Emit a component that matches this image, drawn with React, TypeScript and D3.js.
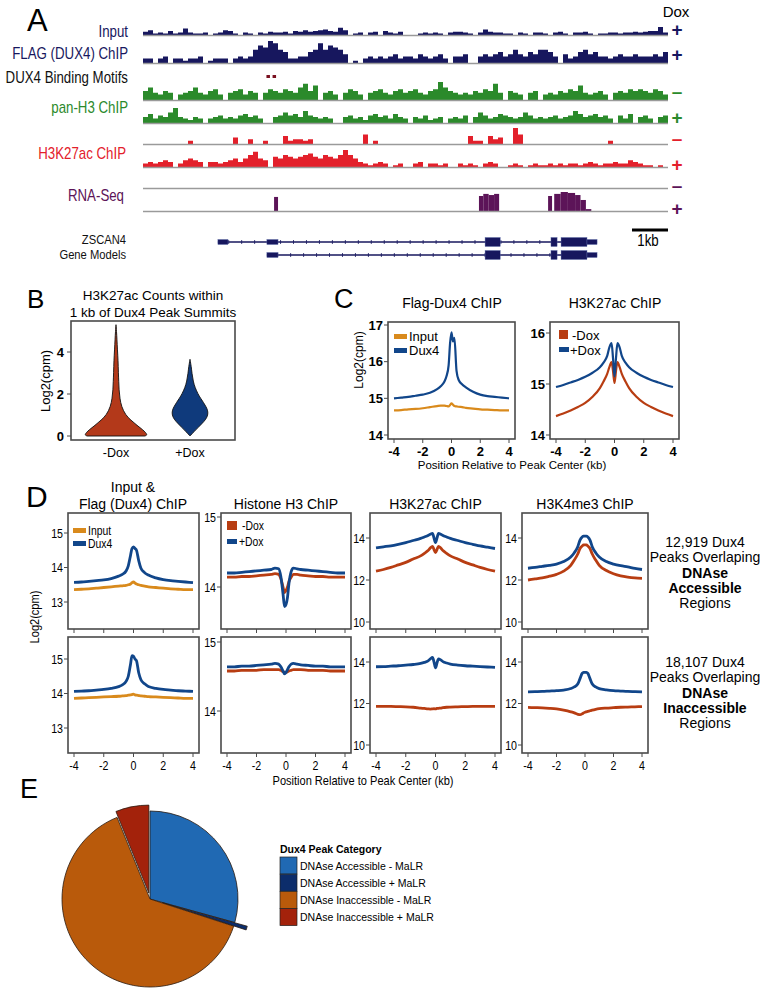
import React from 'react';
import * as d3 from 'd3';

// ---------------- DATA ----------------
// Panel A: genome browser coverage (binned, 0-10 relative units)
const inputTrack = [4,6,2,3,2,5,2,3,8,3, 2,2,3,0,2,3,6,5,2,0, 3,2,0,3,2,4,3,3,4,2, 5,4,6,4,5,6,7,5,4,9, 6,0,2,3,0,3,4,0,5,3, 2,4,0,0,0,2,3,2,3,2, 0,3,4,4,3,2,0,3,7,4, 3,3,2,2,0,3,2,0,3,3, 2,0,3,4,2,0,3,3,4,2, 0,2,2,3,3,2,3,3,4,3, 4,5,5,10,3];
const flagTrack = [2,2,0,2,3,0,2,2,1,2, 2,3,0,1,2,2,2,0,2,3, 2,3,6,8,7,10,9,6,5,2, 2,3,3,5,6,9,6,8,7,6, 4,0,1,0,2,3,2,3,2,3, 4,2,3,3,2,4,3,2,3,4, 2,0,3,3,4,0,0,3,4,3, 4,5,3,4,6,4,3,5,4,6, 6,5,3,0,4,2,3,5,6,4, 5,3,3,2,3,4,3,3,4,3, 3,3,4,3,5];
const h3MinusTrack = [5,7,4,3,5,4,0,3,4,5, 7,4,3,5,6,3,0,4,5,6, 3,5,4,0,4,6,5,4,6,5, 4,7,9,5,8,0,4,5,3,0, 4,6,5,3,0,4,5,6,4,3, 5,6,4,5,6,4,3,5,6,10, 7,5,4,3,4,3,5,4,6,5, 9,4,0,5,4,3,0,4,5,0, 3,4,3,5,4,6,5,8,4,3, 4,5,3,0,4,5,4,6,5,6, 5,4,6,5,3];
const h3PlusTrack = [4,6,3,5,4,7,10,4,3,2, 4,3,0,3,4,5,3,4,3,5, 6,4,5,3,0,0,4,5,7,5, 6,4,8,5,4,3,4,3,0,0, 4,5,3,4,2,5,6,4,5,3, 6,4,3,0,4,3,5,2,3,4, 0,3,4,3,5,0,4,7,5,3, 4,6,5,4,3,4,7,5,3,4, 3,4,5,3,4,5,8,6,4,5, 6,4,5,3,0,5,3,6,0,4, 5,3,0,4,5];
const acMinusTrack = [0,0,0,0,0,0,0,0,0,2, 0,0,0,0,0,0,0,0,4,0, 0,3,0,0,2,0,0,0,5,2, 3,3,2,3,0,0,0,0,0,0, 0,0,0,0,6,0,2,0,0,0, 0,0,0,0,0,0,0,0,0,0, 0,0,0,0,0,5,2,2,0,5, 3,4,0,0,10,6,0,0,0,0, 0,0,0,0,0,0,0,0,0,0, 0,0,0,2,0,0,0,0,0,0, 0,0,0,0,0];
const acPlusTrack = [2,3,2,3,4,3,0,2,4,5, 4,3,0,3,3,2,3,4,5,3, 5,7,9,5,4,0,6,5,7,6, 5,6,7,8,6,5,7,6,5,7, 10,7,5,3,2,1,2,3,2,0, 1,2,0,0,2,3,0,2,2,1, 2,0,0,2,1,2,1,0,2,3, 2,0,0,1,2,1,0,1,2,1, 1,2,1,2,1,2,2,1,2,3, 2,1,2,2,3,2,2,4,3,2, 1,1,0,1,0];
// RNA-seq (+Dox) coverage blocks: [start kb, end kb, value 0-10]
const rnaBlocks = [[3.64,3.75,7.4],[9.33,9.45,7.9],[9.45,9.6,9],[9.6,9.75,8.4],[9.75,9.89,9],[11.25,11.36,7.9],[11.42,11.6,9],[11.6,11.8,10],[11.8,12.0,9.5],[12.0,12.15,8.4],[12.15,12.3,5.8],[12.3,12.45,1]];
const motifPositions = [3.47, 3.64];
const regionKb = 14.58;
// gene models: [start kb, end kb, kind] where kind 'c' = coding, 'u' = UTR
const gene1Span = [2.08, 12.61];
const gene1Exons = [[2.08,2.36,'u'],[3.44,3.75,'u'],[9.5,9.92,'c'],[11.33,11.5,'c'],[11.61,12.33,'c'],[12.33,12.61,'u']];
const gene2Span = [3.44, 12.61];
const gene2Exons = [[3.44,3.75,'u'],[9.5,9.92,'c'],[11.33,11.5,'c'],[11.61,12.33,'c'],[12.33,12.61,'u']];

// Panel B: violins — levels (log2 cpm) and relative widths
const violinMinusLevels = [0,0.05,0.3,0.5,0.76,1.0,1.4,1.8,2.2,2.6,3.0,3.6,4.1,4.6,5.0,5.3];
const violinMinusWidths = [0.9,1.0,0.84,0.66,0.46,0.3,0.17,0.12,0.095,0.085,0.075,0.065,0.045,0.03,0.015,0];
const violinPlusLevels = [0,0.2,0.4,0.6,0.8,1.0,1.2,1.4,1.6,1.8,2.0,2.3,2.6,3.0,3.3,3.65];
const violinPlusWidths = [0,0.12,0.25,0.38,0.5,0.56,0.56,0.5,0.42,0.33,0.25,0.16,0.1,0.06,0.04,0];
const violinCats = ['-Dox', '+Dox'];
const bTicks = [0, 2, 4];

// Profiles (position kb)
const PX = [-4,-3.5,-3,-2.5,-2,-1.5,-1,-0.75,-0.5,-0.35,-0.2,-0.1,0,0.1,0.2,0.35,0.5,0.75,1,1.5,2,2.5,3,3.5,4];
// Panel C
const cFlagInput = [14.67,14.68,14.7,14.71,14.73,14.76,14.79,14.8,14.8,14.79,14.78,14.82,14.86,14.83,14.79,14.78,14.77,14.76,14.74,14.72,14.7,14.69,14.68,14.67,14.67];
const cFlagDux4 = [15.0,15.02,15.04,15.07,15.1,15.15,15.25,15.33,15.45,15.6,15.9,16.5,16.8,16.55,16.65,15.75,15.5,15.38,15.3,15.18,15.1,15.06,15.04,15.02,15.0];
const cAcPlus = [14.94,14.98,15.03,15.08,15.14,15.22,15.33,15.42,15.55,15.72,15.8,15.5,15.15,15.5,15.8,15.72,15.55,15.42,15.33,15.22,15.14,15.08,15.03,14.98,14.94];
const cAcMinus = [14.37,14.42,14.48,14.55,14.63,14.75,14.92,15.05,15.2,15.33,15.43,15.25,15.02,15.25,15.43,15.33,15.2,15.05,14.92,14.75,14.63,14.55,14.48,14.42,14.37];
const cLeftTicks = [14, 15, 16, 17];
const cRightTicks = [14, 15, 16];
const xTicks = [-4, -2, 0, 2, 4];

// Panel D — row 1 (accessible), row 2 (inaccessible)
const d1Input = [13.36,13.37,13.38,13.4,13.42,13.44,13.46,13.47,13.48,13.5,13.52,13.56,13.58,13.55,13.52,13.5,13.48,13.46,13.44,13.42,13.4,13.38,13.37,13.36,13.36];
const d1Dux4 = [13.57,13.58,13.6,13.62,13.64,13.68,13.75,13.8,13.9,14.05,14.35,14.55,14.6,14.55,14.5,14.2,13.98,13.85,13.78,13.7,13.65,13.62,13.6,13.58,13.56];
const d2Input = [13.86,13.87,13.88,13.89,13.9,13.91,13.92,13.93,13.94,13.95,13.96,13.97,13.98,13.96,13.95,13.94,13.93,13.92,13.91,13.9,13.89,13.88,13.87,13.86,13.86];
const d2Dux4 = [14.06,14.07,14.08,14.1,14.12,14.15,14.2,14.25,14.35,14.5,14.85,15.1,15.08,15.0,14.95,14.6,14.4,14.28,14.2,14.15,14.12,14.1,14.08,14.07,14.06];
const d1H3Plus = [14.2,14.2,14.21,14.22,14.23,14.24,14.25,14.27,14.26,14.15,13.9,13.72,13.75,13.85,14.05,14.22,14.27,14.26,14.25,14.24,14.23,14.22,14.21,14.2,14.2];
const d1H3Minus = [14.14,14.14,14.15,14.15,14.16,14.17,14.18,14.19,14.18,14.12,14.0,13.92,13.95,14.0,14.08,14.14,14.18,14.18,14.17,14.16,14.15,14.15,14.14,14.14,14.14];
const d2H3Plus = [14.64,14.64,14.65,14.65,14.66,14.67,14.68,14.69,14.68,14.64,14.58,14.54,14.56,14.6,14.64,14.68,14.69,14.68,14.67,14.66,14.65,14.65,14.64,14.64,14.64];
const d2H3Minus = [14.58,14.58,14.59,14.59,14.59,14.6,14.6,14.6,14.6,14.59,14.57,14.56,14.56,14.57,14.58,14.59,14.6,14.6,14.6,14.59,14.59,14.59,14.58,14.58,14.58];
const d1AcPlus = [13.53,13.58,13.63,13.7,13.78,13.88,13.98,14.05,14.12,14.18,14.22,14.0,13.78,14.0,14.22,14.18,14.12,14.05,13.98,13.88,13.78,13.7,13.62,13.56,13.5];
const d1AcMinus = [12.42,12.5,12.6,12.72,12.84,13.0,13.15,13.27,13.4,13.52,13.6,13.45,13.3,13.45,13.6,13.52,13.4,13.27,13.15,13.0,12.84,12.72,12.6,12.5,12.42];
const d2AcPlus = [13.77,13.78,13.8,13.82,13.85,13.88,13.93,13.98,14.05,14.15,14.22,14.0,13.72,13.95,14.15,14.1,14.02,13.95,13.9,13.85,13.82,13.8,13.78,13.76,13.74];
const d2AcMinus = [11.86,11.86,11.86,11.85,11.84,11.82,11.78,11.76,11.74,11.73,11.74,11.75,11.74,11.76,11.77,11.78,11.8,11.82,11.83,11.84,11.85,11.86,11.86,11.86,11.86];
const d1K4Plus = [12.56,12.6,12.65,12.7,12.76,12.88,13.1,13.3,13.6,13.9,14.05,14.09,14.09,14.09,14.05,13.9,13.6,13.3,13.1,12.88,12.76,12.68,12.62,12.55,12.5];
const d1K4Minus = [12.0,12.05,12.1,12.18,12.27,12.42,12.7,12.95,13.25,13.5,13.62,13.67,13.67,13.67,13.62,13.5,13.25,12.95,12.7,12.45,12.3,12.2,12.14,12.1,12.08];
const d2K4Plus = [12.56,12.57,12.58,12.6,12.62,12.65,12.72,12.8,12.95,13.2,13.45,13.5,13.5,13.5,13.45,13.2,12.95,12.8,12.72,12.66,12.62,12.6,12.58,12.57,12.56];
const d2K4Minus = [11.81,11.8,11.79,11.77,11.74,11.68,11.6,11.55,11.48,11.46,11.5,11.55,11.58,11.6,11.62,11.65,11.68,11.72,11.75,11.78,11.8,11.82,11.83,11.84,11.85];
const dTicksInput = [13, 14, 15];
const dTicksH3 = [14, 15];
const dTicksAc = [10, 12, 14];
const dTitles = ['Histone H3 ChIP', 'H3K27ac ChIP', 'H3K4me3 ChIP'];
const dRow1Note = ['12,919 Dux4', 'Peaks Overlaping', 'DNAse', 'Accessible', 'Regions'];
const dRow2Note = ['18,107 Dux4', 'Peaks Overlaping', 'DNAse', 'Inaccessible', 'Regions'];

// Panel E
const pieCategories = ['DNAse Accessible - MaLR', 'DNAse Accessible + MaLR', 'DNAse Inaccessible - MaLR', 'DNAse Inaccessible + MaLR'];
const pieValues = [29.3, 0.7, 63.9, 6.1];

// ---------------- STYLE ----------------
const FONT = '"Liberation Sans", Arial, Helvetica, sans-serif';
const NAVY = '#17175e';
const GREEN = '#2b8a2b';
const RED = '#e3202b';
const PURPLE = '#5c1458';
const ORANGE = '#d98a1c';
const BLUE = '#11468a';
const RUST = '#b83d12';
const BOX = '#4a4a4a';
const pieColors = ['#2069b3', '#0c2d6b', '#b95a0b', '#a3220b'];
const pieExplode = [0, 13, 0, 6];

// condensed text (horizontal squeeze)
function NText({ x, y, sx = 0.8, children, ...rest }: any) {
  return (
    <text transform={`translate(${x},${y}) scale(${sx},1)`} fontFamily={FONT} {...rest}>{children}</text>
  );
}

// ---------------- PANEL A ----------------
const AX0 = 143, AX1 = 668;
const gx = d3.scaleLinear().domain([0, regionKb]).range([AX0, AX1]);

function Track({ vals, base, h, color }: any) {
  const bx = d3.scaleLinear().domain([0, vals.length]).range([AX0, AX1]);
  const hs = d3.scaleLinear().domain([0, 10]).range([0, h]);
  const pts = [...vals, vals[vals.length - 1]];
  const area = d3.area<number>()
    .x((_d, i) => bx(i))
    .y0(base)
    .y1((d) => base - hs(d))
    .curve(d3.curveStepAfter);
  return (
    <g>
      <path d={area(pts) || ''} fill={color} />
      <line x1={AX0} x2={AX1} y1={base + 0.5} y2={base + 0.5} stroke="#9a9a9a" strokeWidth={1.4} />
    </g>
  );
}

function Gene({ span, exons, y }: any) {
  const ticks = d3.range(span[0] + 0.3, span[1], 0.36);
  return (
    <g>
      <line x1={gx(span[0])} x2={gx(span[1])} y1={y} y2={y} stroke={NAVY} strokeWidth={1.5} />
      {ticks.map((t, i) => (
        <line key={i} x1={gx(t)} x2={gx(t)} y1={y - 2} y2={y + 2} stroke={NAVY} strokeWidth={0.8} />
      ))}
      {exons.map((e: any, i: number) => {
        const hh = e[2] === 'c' ? 9 : 5;
        return <rect key={i} x={gx(e[0])} y={y - hh / 2} width={gx(e[1]) - gx(e[0])} height={hh} fill={NAVY} stroke="#5a6aa8" strokeWidth={0.4} />;
      })}
    </g>
  );
}

function PanelA() {
  const fs = 16;
  const sx = 0.83;
  const signStyle = { fontFamily: FONT, fontSize: 19, fontWeight: 700 } as any;
  const rnaBase = 211;
  const rh = d3.scaleLinear().domain([0, 10]).range([0, 19]);
  return (
    <g>
      <text x={27} y={31} fontFamily={FONT} fontSize={31}>A</text>
      <text x={676} y={17} textAnchor="middle" fontFamily={FONT} fontSize={15}>Dox</text>
      <NText x={128} y={37} sx={sx} textAnchor="end" fill={NAVY} fontSize={fs}>Input</NText>
      <NText x={128} y={59} sx={sx} textAnchor="end" fill={NAVY} fontSize={fs}>FLAG (DUX4) ChIP</NText>
      <NText x={128} y={83} sx={sx} textAnchor="end" fill="#111" fontSize={fs}>DUX4 Binding Motifs</NText>
      <NText x={128} y={113} sx={sx} textAnchor="end" fill={GREEN} fontSize={fs}>pan-H3 ChIP</NText>
      <NText x={126} y={159} sx={sx} textAnchor="end" fill={RED} fontSize={fs}>H3K27ac ChIP</NText>
      <NText x={124} y={201} sx={sx} textAnchor="end" fill={PURPLE} fontSize={fs}>RNA-Seq</NText>
      <NText x={126} y={244} sx={sx} textAnchor="end" fill="#111" fontSize={13.5}>ZSCAN4</NText>
      <NText x={126} y={259} sx={sx} textAnchor="end" fill="#111" fontSize={13.5}>Gene Models</NText>

      <Track vals={inputTrack} base={35} h={8} color={NAVY} />
      <Track vals={flagTrack} base={63} h={22} color={NAVY} />
      <Track vals={h3MinusTrack} base={100} h={18} color={GREEN} />
      <Track vals={h3PlusTrack} base={123} h={15} color={GREEN} />
      <Track vals={acMinusTrack} base={144} h={16} color={RED} />
      <Track vals={acPlusTrack} base={167} h={17} color={RED} />
      {motifPositions.map((m, i) => (
        <rect key={i} x={gx(m) - 1.5} y={75} width={3.5} height={3} fill="#7a1020" />
      ))}
      <line x1={AX0} x2={AX1} y1={188.5} y2={188.5} stroke="#9a9a9a" strokeWidth={1.4} />
      {rnaBlocks.map((b, i) => (
        <rect key={i} x={gx(b[0])} y={rnaBase - rh(b[2])} width={gx(b[1]) - gx(b[0])} height={rh(b[2])} fill={PURPLE} />
      ))}
      <line x1={AX0} x2={AX1} y1={rnaBase + 0.5} y2={rnaBase + 0.5} stroke="#9a9a9a" strokeWidth={1.4} />

      <text x={677} y={36} textAnchor="middle" fill={NAVY} style={signStyle}>+</text>
      <text x={677} y={61} textAnchor="middle" fill={NAVY} style={signStyle}>+</text>
      <text x={677} y={98} textAnchor="middle" fill={GREEN} style={signStyle}>–</text>
      <text x={677} y={124} textAnchor="middle" fill={GREEN} style={signStyle}>+</text>
      <text x={677} y={145} textAnchor="middle" fill={RED} style={signStyle}>–</text>
      <text x={677} y={171} textAnchor="middle" fill={RED} style={signStyle}>+</text>
      <text x={677} y={192} textAnchor="middle" fill={PURPLE} style={signStyle}>–</text>
      <text x={677} y={215} textAnchor="middle" fill={PURPLE} style={signStyle}>+</text>

      <Gene span={gene1Span} exons={gene1Exons} y={242} />
      <Gene span={gene2Span} exons={gene2Exons} y={255} />
      <line x1={gx(regionKb - 1)} x2={gx(regionKb)} y1={230} y2={230} stroke="#000" strokeWidth={3} />
      <NText x={(gx(regionKb - 1) + gx(regionKb)) / 2 - 2} y={246} sx={sx} textAnchor="middle" fontSize={16}>1kb</NText>
    </g>
  );
}

// ---------------- PANEL B ----------------
function PanelB() {
  const y = d3.scaleLinear().domain([0, 4]).range([436, 352]);
  const cx = d3.scalePoint().domain(violinCats).range([116, 190]);
  const w = d3.scaleLinear().domain([0, 1]).range([0, 32]);
  const mk = (levels: number[], widths: number[], c: number) =>
    d3.area<number>()
      .y((d) => y(d))
      .x0((_d, i) => c - w(widths[i]))
      .x1((_d, i) => c + w(widths[i]))
      .curve(d3.curveBasis)(levels) || '';
  return (
    <g fontFamily={FONT}>
      <text x={27} y={308} fontSize={26}>B</text>
      <text x={153} y={300} textAnchor="middle" fontSize={13.5}>H3K27ac Counts within</text>
      <text x={153} y={317} textAnchor="middle" fontSize={13.5}>1 kb of Dux4 Peak Summits</text>
      <path d={mk(violinMinusLevels, violinMinusWidths, cx('-Dox') as number)} fill="#b3391a" stroke="#111" strokeWidth={0.9} />
      <path d={mk(violinPlusLevels, violinPlusWidths, cx('+Dox') as number)} fill="#0f3a7c" stroke="#111" strokeWidth={0.9} />
      <rect x={71} y={321} width={164} height={119} fill="none" stroke={BOX} strokeWidth={1.6} />
      {bTicks.map((t) => (
        <g key={t}>
          <line x1={67} x2={71} y1={y(t)} y2={y(t)} stroke={BOX} strokeWidth={1} />
          <text x={64} y={y(t) + 4.5} textAnchor="end" fontSize={13} fontWeight={700}>{t}</text>
        </g>
      ))}
      {violinCats.map((c) => (
        <text key={c} x={cx(c)} y={457} textAnchor="middle" fontSize={12.5}>{c}</text>
      ))}
      <text transform="translate(50,381) rotate(-90)" textAnchor="middle" fontSize={13}>Log2(cpm)</text>
    </g>
  );
}

// ---------------- shared profile panel ----------------
function Profile({ x0, x1, y0, y1, yDomain, yRange, ticks, series, showXLabels, showXTicks, tickSize, tickBold, tickSx, lw }: any) {
  const xs = d3.scaleLinear().domain([-4, 4]).range([x0 + 6, x1 - 6]);
  const ys = d3.scaleLinear().domain(yDomain).range(yRange);
  const line = d3.line<number>().x((_d, i) => xs(PX[i])).y((d) => ys(d)).curve(d3.curveMonotoneX);
  const sx = tickSx || 1;
  return (
    <g>
      {series.map((s: any, i: number) => (
        <path key={i} d={line(s.vals) || ''} fill="none" stroke={s.color} strokeWidth={lw || 2.6} strokeLinejoin="round" />
      ))}
      <rect x={x0} y={y0} width={x1 - x0} height={y1 - y0} fill="none" stroke={BOX} strokeWidth={1.6} />
      {ticks.map((t: number) => (
        <g key={t}>
          <line x1={x0 - 4} x2={x0} y1={ys(t)} y2={ys(t)} stroke={BOX} strokeWidth={1} />
          <NText x={x0 - 5} y={ys(t) + 4.5} sx={sx} textAnchor="end" fontSize={tickSize} fontWeight={tickBold ? 700 : 400}>{t}</NText>
        </g>
      ))}
      {showXTicks && xTicks.map((t) => (
        <line key={t} x1={xs(t)} x2={xs(t)} y1={y1} y2={y1 + 4} stroke={BOX} strokeWidth={1} />
      ))}
      {showXLabels && xTicks.map((t) => (
        <NText key={t} x={xs(t)} y={y1 + 17} sx={sx} textAnchor="middle" fontSize={tickSize} fontWeight={tickBold ? 700 : 400}>{t}</NText>
      ))}
    </g>
  );
}

// ---------------- PANEL C ----------------
function PanelC() {
  return (
    <g fontFamily={FONT}>
      <text x={334} y={308} fontSize={27}>C</text>
      <text x={452} y={308} textAnchor="middle" fontSize={14}>Flag-Dux4 ChIP</text>
      <text x={615} y={308} textAnchor="middle" fontSize={14}>H3K27ac ChIP</text>
      <Profile x0={388} x1={515} y0={322} y1={439} yDomain={[14, 17]} yRange={[435, 325]} ticks={cLeftTicks}
        series={[{ vals: cFlagInput, color: ORANGE }, { vals: cFlagDux4, color: BLUE }]}
        showXLabels showXTicks tickSize={13} tickBold lw={2.2} />
      <Profile x0={550} x1={679} y0={322} y1={439} yDomain={[14, 16]} yRange={[435, 333]} ticks={cRightTicks}
        series={[{ vals: cAcMinus, color: RUST }, { vals: cAcPlus, color: BLUE }]}
        showXLabels showXTicks tickSize={13} tickBold lw={2.2} />
      <rect x={394} y={334} width={13} height={5} fill={ORANGE} />
      <text x={409} y={341} fontSize={13}>Input</text>
      <rect x={394} y={348} width={13} height={5} fill={BLUE} />
      <text x={409} y={355} fontSize={13}>Dux4</text>
      <rect x={559} y={330} width={9} height={9} fill={RUST} />
      <text x={572} y={340} fontSize={13}>-Dox</text>
      <rect x={559} y={347} width={10} height={5} fill={BLUE} />
      <text x={570} y={355} fontSize={13}>+Dox</text>
      <text transform="translate(363,360) rotate(-90)" textAnchor="middle" fontSize={12}>Log2(cpm)</text>
      <text x={512} y={469} textAnchor="middle" fontSize={11.5}>Position Relative to Peak Center (kb)</text>
    </g>
  );
}

// ---------------- PANEL D ----------------
function PanelD() {
  const cols = [[68, 199], [221, 351], [370, 501], [522, 648]];
  const rows = [[513, 629], [637, 753]];
  const specs = [
    [{ dom: [13, 15], rng: [602, 533], ticks: dTicksInput, s: [{ vals: d1Input, color: ORANGE }, { vals: d1Dux4, color: BLUE }] },
     { dom: [13, 15], rng: [728, 659], ticks: dTicksInput, s: [{ vals: d2Input, color: ORANGE }, { vals: d2Dux4, color: BLUE }] }],
    [{ dom: [14, 15], rng: [587, 517], ticks: dTicksH3, s: [{ vals: d1H3Minus, color: RUST }, { vals: d1H3Plus, color: BLUE }] },
     { dom: [14, 15], rng: [711, 642], ticks: dTicksH3, s: [{ vals: d2H3Minus, color: RUST }, { vals: d2H3Plus, color: BLUE }] }],
    [{ dom: [10, 14], rng: [622, 538], ticks: dTicksAc, s: [{ vals: d1AcMinus, color: RUST }, { vals: d1AcPlus, color: BLUE }] },
     { dom: [10, 14], rng: [745, 662], ticks: dTicksAc, s: [{ vals: d2AcMinus, color: RUST }, { vals: d2AcPlus, color: BLUE }] }],
    [{ dom: [10, 14], rng: [622, 538], ticks: dTicksAc, s: [{ vals: d1K4Minus, color: RUST }, { vals: d1K4Plus, color: BLUE }] },
     { dom: [10, 14], rng: [745, 662], ticks: dTicksAc, s: [{ vals: d2K4Minus, color: RUST }, { vals: d2K4Plus, color: BLUE }] }],
  ];
  return (
    <g fontFamily={FONT}>
      <text x={26} y={507} fontSize={30}>D</text>
      <text x={133} y={492} textAnchor="middle" fontSize={14}>Input &amp;</text>
      <text x={133} y={509} textAnchor="middle" fontSize={14}>Flag (Dux4) ChIP</text>
      {dTitles.map((t, i) => (
        <text key={t} x={(cols[i + 1][0] + cols[i + 1][1]) / 2} y={509} textAnchor="middle" fontSize={14}>{t}</text>
      ))}
      {cols.map((c, ci) => rows.map((r, ri) => {
        const sp = specs[ci][ri];
        return (
          <Profile key={ci + '-' + ri} x0={c[0]} x1={c[1]} y0={r[0]} y1={r[1]} yDomain={sp.dom}
            yRange={sp.rng} ticks={sp.ticks} series={sp.s} showXTicks showXLabels={ri === 1}
            tickSize={13} tickBold={false} tickSx={0.82} lw={2.8} />
        );
      }))}
      <rect x={73} y={528} width={13} height={5} fill={ORANGE} />
      <NText x={88} y={535} fontSize={13}>Input</NText>
      <rect x={73} y={541} width={13} height={5} fill={BLUE} />
      <NText x={88} y={548} fontSize={13}>Dux4</NText>
      <rect x={227} y={521} width={10} height={9} fill={RUST} />
      <NText x={242} y={530} fontSize={13}>-Dox</NText>
      <rect x={227} y={539} width={10} height={5} fill={BLUE} />
      <NText x={239} y={546} fontSize={13}>+Dox</NText>
      <text transform="translate(39,617) rotate(-90) scale(0.85,1)" textAnchor="middle" fontSize={13}>Log2(cpm)</text>
      <NText x={363} y={785} sx={0.85} textAnchor="middle" fontSize={13}>Position Relative to Peak Center (kb)</NText>
      {[dRow1Note, dRow2Note].map((note, ri) => (
        <g key={ri}>
          {note.map((ln, i) => (
            <text key={i} x={705} y={(ri === 0 ? 547 : 667) + i * 15.3} textAnchor="middle" fontSize={14}
              fontWeight={i === 2 || i === 3 ? 700 : 400}>{ln}</text>
          ))}
        </g>
      ))}
    </g>
  );
}

// ---------------- PANEL E ----------------
function PanelE() {
  const cx = 150, cy = 899, r = 88;
  const arcs = d3.pie<number>().sort(null).value((d) => d).startAngle(0).endAngle(2 * Math.PI)(pieValues);
  const arcGen = d3.arc<any>().innerRadius(0).outerRadius(r);
  return (
    <g fontFamily={FONT}>
      <text x={20} y={798} fontSize={27}>E</text>
      {arcs.map((a, i) => {
        const mid = (a.startAngle + a.endAngle) / 2;
        const off = pieExplode[i];
        const tx = cx + Math.sin(mid) * off;
        const ty = cy - Math.cos(mid) * off;
        return (
          <path key={i} d={arcGen(a) || ''} transform={`translate(${tx},${ty})`} fill={pieColors[i]}
            stroke="#2a1a10" strokeWidth={0.8} strokeLinejoin="round" />
        );
      })}
      <text x={280} y={853} fontSize={10.5} fontWeight={700}>Dux4 Peak Category</text>
      {pieCategories.map((c, i) => (
        <g key={c}>
          <rect x={280} y={857 + i * 17.2} width={17} height={17} fill={pieColors[i]} stroke="#222" strokeWidth={0.7} />
          <text x={300} y={869.5 + i * 17.2} fontSize={10.5}>{c}</text>
        </g>
      ))}
    </g>
  );
}

export default function App() {
  return (
    <div style={{ position: 'absolute', left: 0, top: 0, width: 761, height: 995, background: '#fff' }}>
      <svg width={761} height={995} viewBox="0 0 761 995" style={{ display: 'block' }}>
        <rect x={0} y={0} width={761} height={995} fill="#fff" />
        <PanelA />
        <PanelB />
        <PanelC />
        <PanelD />
        <PanelE />
      </svg>
    </div>
  );
}
